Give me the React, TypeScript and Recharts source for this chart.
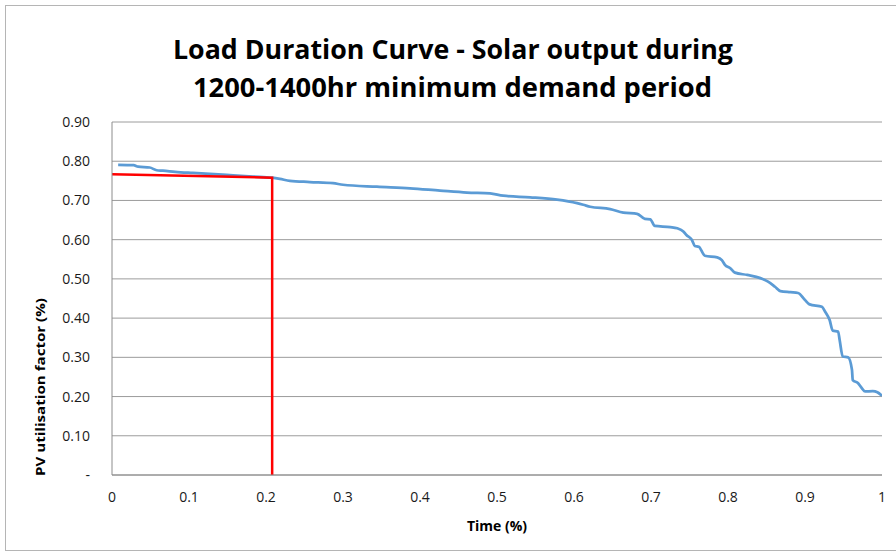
import React from "react";
import { LineChart, Line, XAxis, YAxis, CartesianGrid } from "recharts";

// Load duration curve (blue)
const timeShare = [
  0.008, 0.028, 0.034, 0.049, 0.058, 0.066, 0.082, 0.105, 0.149, 0.183, 0.208,
  0.218, 0.231, 0.257, 0.287, 0.3, 0.344, 0.387, 0.426, 0.461, 0.491, 0.508,
  0.543, 0.578, 0.604, 0.612, 0.621, 0.647, 0.664, 0.682, 0.692, 0.699, 0.705,
  0.725, 0.734, 0.742, 0.746, 0.753, 0.757, 0.762, 0.77, 0.786, 0.792, 0.796,
  0.803, 0.809, 0.825, 0.842, 0.852, 0.861, 0.868, 0.881, 0.891, 0.9, 0.906,
  0.922, 0.926, 0.932, 0.936, 0.943, 0.945, 0.949, 0.956, 0.961, 0.962, 0.969,
  0.974, 0.978, 0.988, 0.994, 1.0,
];
const pvFactor = [
  0.791, 0.79, 0.786, 0.784, 0.777, 0.776, 0.773, 0.77, 0.765, 0.761, 0.758,
  0.755, 0.75, 0.747, 0.744, 0.74, 0.735, 0.731, 0.725, 0.72, 0.718, 0.712,
  0.708, 0.702, 0.693, 0.689, 0.684, 0.678, 0.669, 0.666, 0.653, 0.652, 0.635,
  0.632, 0.629, 0.621, 0.612, 0.6, 0.584, 0.582, 0.559, 0.555, 0.548, 0.536,
  0.527, 0.516, 0.51, 0.502, 0.493, 0.48, 0.469, 0.466, 0.464, 0.446, 0.435,
  0.429, 0.417, 0.395, 0.368, 0.366, 0.344, 0.302, 0.3, 0.268, 0.242, 0.234,
  0.221, 0.213, 0.214, 0.211, 0.202,
];

// Red marker line
const markerTime = [0, 0.208, 0.208];
const markerFactor = [0.767, 0.758, 0];

const xTicks = [0, 0.1, 0.2, 0.3, 0.4, 0.5, 0.6, 0.7, 0.8, 0.9, 1];
const yTicks = [0, 0.1, 0.2, 0.3, 0.4, 0.5, 0.6, 0.7, 0.8, 0.9];

const titleLine1 = "Load Duration Curve - Solar output during";
const titleLine2 = "1200-1400hr minimum demand period";
const xTitle = "Time (%)";
const yTitle = "PV utilisation  factor  (%)";

const curveData = timeShare.map((t, i) => ({ t, v: pvFactor[i] }));
const markerData = markerTime.map((t, i) => ({ t, v: markerFactor[i] }));

const FONT = "'Open Sans', 'Noto Sans', sans-serif";

export default function App() {
  return (
    <div
      style={{
        position: "absolute",
        left: 0,
        top: 0,
        width: 896,
        height: 554,
        overflow: "hidden",
        background: "#fff",
      }}
    >
      <div style={{ position: "absolute", left: 0, top: 0 }}>
        <LineChart
          width={896}
          height={554}
          margin={{ top: 122, right: 14, bottom: 0, left: 0 }}
        >
          <CartesianGrid
            vertical={false}
            stroke="#9c9c9c"
            strokeWidth={1}
            horizontalValues={yTicks}
          />
          <XAxis
            type="number"
            dataKey="t"
            domain={[0, 1]}
            ticks={xTicks}
            allowDataOverflow
            height={79}
            tickSize={0}
            tickMargin={17}
            axisLine={{ stroke: "#8c8c8c", strokeWidth: 1 }}
            tickLine={false}
            tick={{ fontSize: 14, fill: "#1a1a1a", fontFamily: FONT }}
            tickFormatter={(v: number) => (v === 0 ? "0" : v === 1 ? "1" : v.toFixed(1))}
          />
          <YAxis
            type="number"
            dataKey="v"
            domain={[0, 0.9]}
            ticks={yTicks}
            allowDataOverflow
            width={112}
            tickSize={0}
            tickMargin={22}
            axisLine={{ stroke: "#8c8c8c", strokeWidth: 1 }}
            tickLine={false}
            tick={{ fontSize: 14, fill: "#1a1a1a", fontFamily: FONT }}
            tickFormatter={(v: number) => (v === 0 ? "-" : v.toFixed(2))}
          />
          <Line
            data={curveData}
            dataKey="v"
            type="monotone"
            stroke="#5b9bd5"
            strokeWidth={2.75}
            dot={false}
            isAnimationActive={false}
          />
          <Line
            data={markerData}
            dataKey="v"
            type="linear"
            stroke="#ff0000"
            strokeWidth={2.5}
            dot={false}
            isAnimationActive={false}
          />
        </LineChart>
      </div>
      <svg
        width={896}
        height={554}
        style={{ position: "absolute", left: 0, top: 0, pointerEvents: "none" }}
      >
        <rect x={5.5} y={5.5} width={920} height={545} fill="none" stroke="#b5b5b5" />
        <text
          x={173}
          y={59}
          fontFamily={FONT}
          fontWeight={700}
          fontSize={26}
          fill="#000"
          textLength={560}
          lengthAdjust="spacingAndGlyphs"
        >
          {titleLine1}
        </text>
        <text
          x={193}
          y={97}
          fontFamily={FONT}
          fontWeight={700}
          fontSize={26}
          fill="#000"
          textLength={519}
          lengthAdjust="spacingAndGlyphs"
        >
          {titleLine2}
        </text>
        <text
          x={497}
          y={531}
          textAnchor="middle"
          fontFamily={FONT}
          fontWeight={700}
          fontSize={14}
          fill="#000"
        >
          {xTitle}
        </text>
        <text
          transform="translate(45,298) rotate(-90)"
          textAnchor="middle"
          fontFamily={FONT}
          fontWeight={700}
          fontSize={12.5}
          fill="#000"
          textLength={178}
          lengthAdjust="spacingAndGlyphs"
          x={-89}
        >
          {yTitle}
        </text>
      </svg>
    </div>
  );
}
